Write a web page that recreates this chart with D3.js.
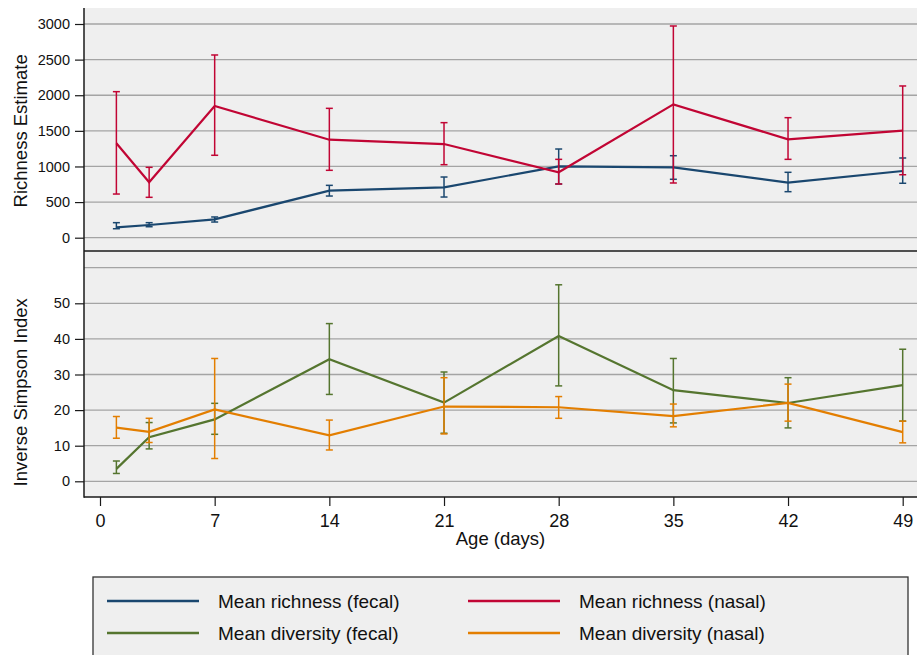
<!DOCTYPE html>
<html>
<head>
<meta charset="utf-8">
<script src="https://cdn.jsdelivr.net/npm/d3@7/dist/d3.min.js"></script>
<style>
  html, body { margin: 0; padding: 0; background: #ffffff; }
  svg { display: block; font-family: "Liberation Sans", Arial, sans-serif; }
</style>
</head>
<body>
<svg id="chart" width="921" height="655"></svg>
<script>
// Sampling ages (days)
const days = [1, 3, 7, 14, 21, 28, 35, 42, 49];
const xTicks = [0, 7, 14, 21, 28, 35, 42, 49];

// Richness estimate: mean with lower / upper bounds
const richFecal   = [146, 178, 258, 660, 707, 1002, 988, 772, 936];
const richFecalLo = [126, 154, 220, 585, 571, 754, 820, 646, 764];
const richFecalHi = [211, 211, 291, 735, 852, 1245, 1151, 918, 1119];
const richNasal   = [1325, 778, 1849, 1376, 1315, 918, 1872, 1381, 1502];
const richNasalLo = [613, 567, 1157, 946, 1025, 754, 768, 1100, 884];
const richNasalHi = [2050, 988, 2565, 1816, 1615, 1100, 2972, 1685, 2130];

// Inverse Simpson index: mean with lower / upper bounds
const divFecal   = [3.5, 12.4, 17.4, 34.3, 22.1, 40.8, 25.6, 22.0, 27.0];
const divFecalLo = [2.2, 9.1, 13.2, 24.4, 13.5, 26.8, 16.4, 15.0, 16.9];
const divFecalHi = [5.7, 16.5, 21.9, 44.3, 30.7, 55.2, 34.5, 29.1, 37.1];
const divNasal   = [15.1, 13.9, 20.2, 12.9, 21.0, 20.8, 18.3, 22.0, 13.8];
const divNasalLo = [12.1, 10.9, 6.4, 8.8, 13.3, 17.7, 15.3, 16.9, 10.8];
const divNasalHi = [18.2, 17.7, 34.5, 17.2, 29.1, 23.8, 21.7, 27.3, 16.9];

const richTicks = [0, 500, 1000, 1500, 2000, 2500, 3000];
const richGrid  = [0, 500, 1000, 1500, 2000, 2500, 3000];
const divTicks  = [0, 10, 20, 30, 40, 50];
const divGrid   = [0, 10, 20, 30, 40, 50, 60];

const legendItems = [
  { label: "Mean richness (fecal)",  color: "#1a476f" },
  { label: "Mean richness (nasal)",  color: "#c10534" },
  { label: "Mean diversity (fecal)", color: "#55752f" },
  { label: "Mean diversity (nasal)", color: "#e37e00" }
];

const C = {
  fecalRich: "#1a476f", nasalRich: "#c10534",
  fecalDiv: "#55752f", nasalDiv: "#e37e00",
  bg: "#efefef", grid: "#a4a4a4", axis: "#1a1a1a"
};

const svg = d3.select("#chart");

// Layout
const frame = { left: 84, right: 917, top: 8, mid: 251, bottom: 497 };

const x = d3.scaleLinear().domain([0, 49]).range([100, 902.7]);
const yTop = d3.scaleLinear().domain([0, 3000]).range([237.7, 24]);
const yBot = d3.scaleLinear().domain([0, 50]).range([481.3, 303.3]);

// Plot background
svg.append("rect")
  .attr("x", frame.left).attr("y", frame.top)
  .attr("width", frame.right - frame.left).attr("height", frame.bottom - frame.top)
  .attr("fill", C.bg);

// Gridlines
function grid(vals, y) {
  svg.append("g").selectAll("line").data(vals).join("line")
    .attr("x1", frame.left).attr("x2", frame.right)
    .attr("y1", d => y(d)).attr("y2", d => y(d))
    .attr("stroke", C.grid).attr("stroke-width", 1.3);
}
grid(richGrid, yTop);
grid(divGrid, yBot);

// Y axes
function yAxis(scale, ticks) {
  const g = svg.append("g")
    .attr("transform", `translate(${frame.left},0)`)
    .call(d3.axisLeft(scale).tickValues(ticks).tickSize(9).tickPadding(5).tickFormat(d3.format("d")));
  g.select(".domain").remove();
  g.selectAll(".tick line").attr("stroke", C.axis).attr("stroke-width", 1.2);
  g.selectAll(".tick text").attr("fill", "#111").style("font-size", "14.5px")
    .style("font-family", "'Liberation Sans', Arial, sans-serif");
}
yAxis(yTop, richTicks);
yAxis(yBot, divTicks);

// X axis
const xg = svg.append("g")
  .attr("transform", `translate(0,${frame.bottom})`)
  .call(d3.axisBottom(x).tickValues(xTicks).tickSize(9).tickPadding(8));
xg.select(".domain").remove();
xg.selectAll(".tick line").attr("stroke", C.axis).attr("stroke-width", 1.2);
xg.selectAll(".tick text").attr("fill", "#111").style("font-size", "18px")
  .style("font-family", "'Liberation Sans', Arial, sans-serif");

// Frame lines: left axis, panel separator, bottom axis
svg.append("line").attr("x1", frame.left).attr("x2", frame.left)
  .attr("y1", frame.top).attr("y2", frame.bottom + 0.75)
  .attr("stroke", C.axis).attr("stroke-width", 1.5);
svg.append("line").attr("x1", frame.left).attr("x2", frame.right)
  .attr("y1", frame.mid).attr("y2", frame.mid)
  .attr("stroke", C.axis).attr("stroke-width", 1.6);
svg.append("line").attr("x1", frame.left).attr("x2", frame.right)
  .attr("y1", frame.bottom).attr("y2", frame.bottom)
  .attr("stroke", C.axis).attr("stroke-width", 1.5);

// Axis titles
svg.append("text")
  .attr("transform", `translate(26.5,${(yTop(0) + yTop(3000)) / 2}) rotate(-90)`)
  .attr("text-anchor", "middle").attr("fill", "#111").style("font-size", "18.5px")
  .text("Richness Estimate");
svg.append("text")
  .attr("transform", `translate(26.5,${(yBot(0) + yBot(50)) / 2}) rotate(-90)`)
  .attr("text-anchor", "middle").attr("fill", "#111").style("font-size", "18.5px")
  .text("Inverse Simpson Index");
svg.append("text")
  .attr("x", (frame.left + frame.right) / 2).attr("y", 545)
  .attr("text-anchor", "middle").attr("fill", "#111").style("font-size", "18.5px")
  .text("Age (days)");

// Series: error bars then mean line
function series(mean, lo, hi, y, color) {
  const g = svg.append("g");
  const rows = days.map((d, i) => ({ d, m: mean[i], lo: lo[i], hi: hi[i] }));
  const cap = 3.5;
  const eb = g.append("g").attr("stroke", color).attr("stroke-width", 1.5).attr("fill", "none");
  rows.forEach(r => {
    eb.append("line").attr("x1", x(r.d)).attr("x2", x(r.d)).attr("y1", y(r.lo)).attr("y2", y(r.hi));
    eb.append("line").attr("x1", x(r.d) - cap).attr("x2", x(r.d) + cap).attr("y1", y(r.lo)).attr("y2", y(r.lo));
    eb.append("line").attr("x1", x(r.d) - cap).attr("x2", x(r.d) + cap).attr("y1", y(r.hi)).attr("y2", y(r.hi));
  });
  g.append("path")
    .datum(rows)
    .attr("fill", "none").attr("stroke", color).attr("stroke-width", 2.2)
    .attr("stroke-linejoin", "miter")
    .attr("d", d3.line().x(r => x(r.d)).y(r => y(r.m)));
}
series(richFecal, richFecalLo, richFecalHi, yTop, C.fecalRich);
series(richNasal, richNasalLo, richNasalHi, yTop, C.nasalRich);
series(divFecal, divFecalLo, divFecalHi, yBot, C.fecalDiv);
series(divNasal, divNasalLo, divNasalHi, yBot, C.nasalDiv);

// Legend
const lg = svg.append("g");
lg.append("rect")
  .attr("x", 93).attr("y", 577).attr("width", 815).attr("height", 100)
  .attr("fill", C.bg).attr("stroke", "#333").attr("stroke-width", 1.3);
const colX = [107, 468];
const rowY = [601, 633];
legendItems.forEach((it, i) => {
  const cx = colX[i % 2], cy = rowY[Math.floor(i / 2)];
  lg.append("line").attr("x1", cx).attr("x2", cx + 92).attr("y1", cy).attr("y2", cy)
    .attr("stroke", it.color).attr("stroke-width", 2.6);
  lg.append("text").attr("x", cx + 111).attr("y", cy).attr("dy", "0.35em")
    .attr("fill", "#111").style("font-size", "19px").text(it.label);
});
</script>
</body>
</html>
